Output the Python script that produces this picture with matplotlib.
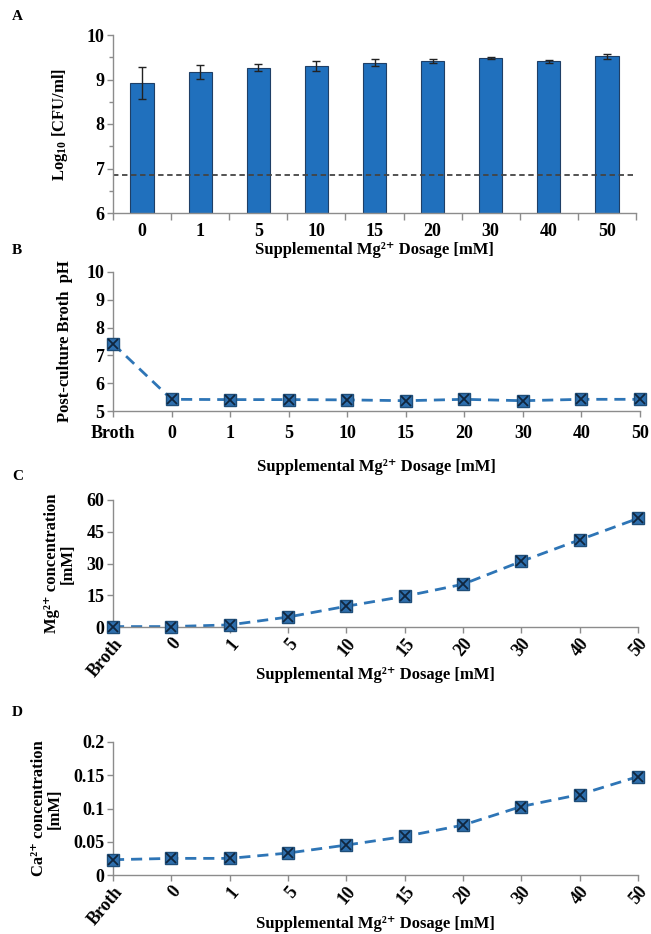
import numpy as np
import matplotlib
matplotlib.use("Agg")
import matplotlib.pyplot as plt
from matplotlib.ticker import FixedLocator, MultipleLocator

plt.rcParams["font.family"] = ["Liberation Serif", "DejaVu Serif"]
plt.rcParams["font.weight"] = "bold"
plt.rcParams["mathtext.fontset"] = "custom"
plt.rcParams["mathtext.rm"] = "Liberation Serif:bold"
plt.rcParams["mathtext.it"] = "Liberation Serif:bold"
plt.rcParams["mathtext.bf"] = "Liberation Serif:bold"

# data
dosage = ["0", "1", "5", "10", "15", "20", "30", "40", "50"]
cats = ["Broth"] + dosage

cfu = [8.92, 9.17, 9.26, 9.31, 9.38, 9.41, 9.48, 9.41, 9.52]
cfu_err = [0.35, 0.16, 0.08, 0.11, 0.07, 0.05, 0.02, 0.03, 0.06]
cfu_line = 6.85

ph = [7.42, 5.42, 5.41, 5.41, 5.40, 5.37, 5.42, 5.37, 5.42, 5.42]
mg = [0.2, 0.2, 1.0, 4.7, 9.8, 14.5, 20.2, 31.0, 41.2, 51.3]
ca = [0.023, 0.025, 0.025, 0.033, 0.045, 0.058, 0.075, 0.103, 0.121, 0.148]

bar_col = "#2070bd"
line_col = "#2e75b6"
spine_col = "#8c8c8c"
xlab = "Supplemental Mg²⁺ Dosage [mM]"

W, H = 651, 934
fig = plt.figure(figsize=(W / 100, H / 100), dpi=100)


def ax_at(l, t, r, b):
    ax = fig.add_axes([l / W, 1 - b / H, (r - l) / W, (b - t) / H])
    ax.px = (t, b)
    return ax


def style(ax):
    for s in ["top", "right"]:
        ax.spines[s].set_visible(False)
    for s in ["left", "bottom"]:
        ax.spines[s].set_color(spine_col)
        ax.spines[s].set_linewidth(1.0)
    ax.tick_params(axis="both", which="both", direction="out", color=spine_col,
                   labelsize=13, width=1.0)
    ax.tick_params(axis="y", length=4, pad=2)


def put_xlabel(ax, y_px):
    t, b = ax.px
    ax.set_xlabel(xlab, fontsize=12, fontweight="bold")
    ax.xaxis.label.set_va("center")
    ax.xaxis.set_label_coords(0.5, -(y_px - b) / (b - t))


def line_plot(ax, vals):
    x = np.arange(len(vals))
    ax.plot(x, vals, ls=(0, (4, 2.5)), color=line_col, lw=2.0, zorder=2)
    ax.plot(x, vals, ls="none", marker="s", ms=8, mfc="#2e6fae", mec="#1f4e79",
            mew=1.0, zorder=3)
    ax.plot(x, vals, ls="none", marker="x", ms=7, mec="#10263f", mew=1.3, zorder=4)
    ax.set_xlim(0, len(vals) - 1)
    ax.set_xticks(x)
    ax.set_xticklabels(cats)
    for m in ax.lines:
        m.set_clip_on(False)


# A
axA = ax_at(113, 35, 636, 213)
xa = np.arange(len(cfu))
axA.bar(xa, cfu, width=0.4, color=bar_col, edgecolor="#1f3f66", lw=0.8,
        yerr=cfu_err, error_kw=dict(ecolor="#222222", elinewidth=1.0, capsize=3, capthick=1.0))
axA.axhline(cfu_line, color="#444444", ls=(0, (3, 2)), lw=1.3)
axA.set_ylim(6, 10)
axA.set_xlim(-0.5, len(cfu) - 0.5)
axA.set_yticks([6, 7, 8, 9, 10])
axA.yaxis.set_minor_locator(MultipleLocator(0.5))
axA.set_xticks(xa)
axA.set_xticklabels(dosage)
axA.xaxis.set_minor_locator(FixedLocator(np.arange(-0.5, len(cfu), 1.0)))
style(axA)
axA.tick_params(axis="x", which="major", length=0, pad=7)
axA.tick_params(axis="x", which="minor", length=5)
axA.tick_params(axis="y", which="minor", length=3)
axA.set_ylabel("Log$_{10}$ [CFU/ml]", fontsize=12, fontweight="bold", labelpad=12)
put_xlabel(axA, 250)
fig.text(12 / W, 1 - 16 / H, "A", fontsize=11, fontweight="bold", va="center")

# B
axB = ax_at(113, 272, 640, 411)
line_plot(axB, ph)
axB.set_ylim(5, 10)
axB.set_yticks([5, 6, 7, 8, 9, 10])
style(axB)
axB.tick_params(axis="x", length=4, pad=6)
axB.set_ylabel("Post-culture Broth  pH", fontsize=12, fontweight="bold", labelpad=10)
put_xlabel(axB, 467)
fig.text(12 / W, 1 - 251 / H, "B", fontsize=11, fontweight="bold", va="center")

# C
axC = ax_at(113, 500, 638, 627)
line_plot(axC, mg)
axC.set_ylim(0, 60)
axC.set_yticks([0, 15, 30, 45, 60])
style(axC)
axC.tick_params(axis="x", length=4, pad=2)
plt.setp(axC.get_xticklabels(), rotation=50, ha="right", rotation_mode="anchor")
axC.set_ylabel("Mg²⁺ concentration\n[mM]", fontsize=12, fontweight="bold",
               labelpad=8, linespacing=0.95)
put_xlabel(axC, 675)
fig.text(12 / W, 1 - 477 / H, "C", fontsize=11, fontweight="bold", va="center")

# D
axD = ax_at(113, 742, 638, 875)
line_plot(axD, ca)
axD.set_ylim(0, 0.2)
axD.set_yticks([0, 0.05, 0.1, 0.15, 0.2])
axD.set_yticklabels(["0", "0.05", "0.1", "0.15", "0.2"])
style(axD)
axD.tick_params(axis="x", length=4, pad=2)
plt.setp(axD.get_xticklabels(), rotation=50, ha="right", rotation_mode="anchor")
axD.set_ylabel("Ca²⁺ concentration\n[mM]", fontsize=12, fontweight="bold",
               labelpad=8, linespacing=0.95)
put_xlabel(axD, 924)
fig.text(12 / W, 1 - 712 / H, "D", fontsize=11, fontweight="bold", va="center")

fig.savefig("out.png", dpi=100)
